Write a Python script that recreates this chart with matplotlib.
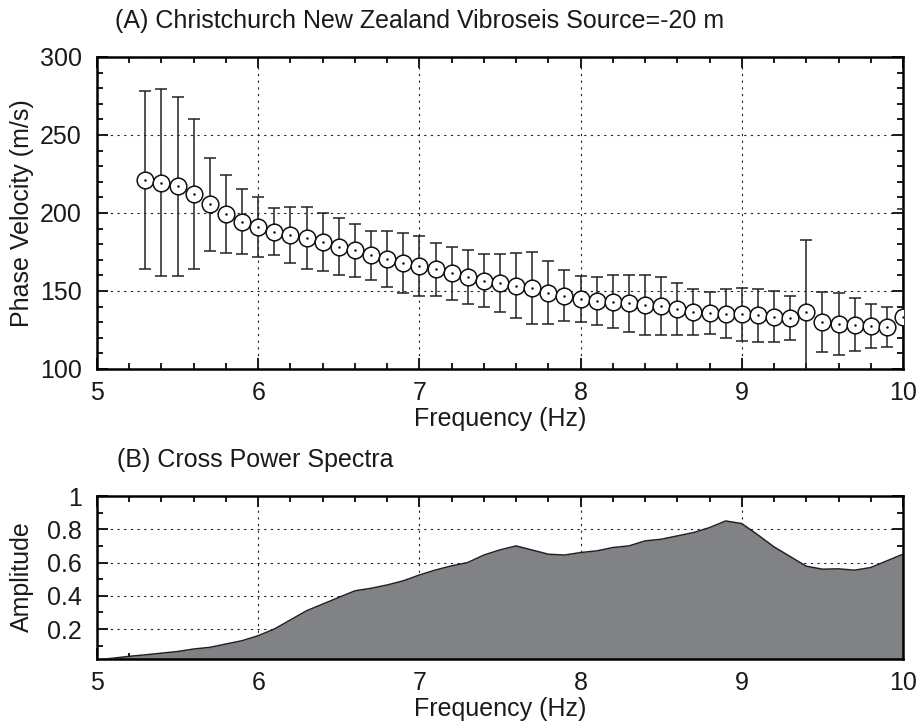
import numpy as np
import matplotlib
matplotlib.use('Agg')
import matplotlib.pyplot as plt
from matplotlib.ticker import MultipleLocator, FormatStrFormatter

plt.rcParams['font.family'] = ['Liberation Sans', 'DejaVu Sans']

# (A) phase velocity with error bars
freq_pv = [5.3, 5.4, 5.5, 5.6, 5.7, 5.8, 5.9, 6.0, 6.1, 6.2, 6.3, 6.4, 6.5, 6.6, 6.7, 6.8,
           6.9, 7.0, 7.1, 7.2, 7.3, 7.4, 7.5, 7.6, 7.7, 7.8, 7.9, 8.0, 8.1, 8.2, 8.3, 8.4,
           8.5, 8.6, 8.7, 8.8, 8.9, 9.0, 9.1, 9.2, 9.3, 9.4, 9.5, 9.6, 9.7, 9.8, 9.9, 10.0]
velocity = [221, 219.5, 217, 212, 205.5, 199.5, 194.5, 191, 188, 186, 184, 181.5, 178.5, 176,
            173, 170.5, 168, 166, 164, 161.5, 159, 156.5, 155, 153.5, 152, 149, 147, 145,
            143.5, 143, 142, 141, 140.5, 138.5, 136.5, 136, 135.5, 135, 134.5, 133.5, 132.5,
            136.5, 130, 129, 128.5, 127.5, 127, 133.5]
vel_err = [57, 60, 57.5, 48, 30, 25, 21, 19, 15, 18, 20, 18.5, 18, 17, 15.7, 17.8, 19, 19,
           17, 17, 17.5, 17, 18.5, 21, 23, 20, 16.5, 14.7, 15.3, 17, 18, 19, 18.5, 16.5, 15,
           13.3, 15.6, 17, 16.9, 16.3, 14.2, 46, 19.2, 19.8, 16.9, 13.9, 12.8, 69]

# (B) cross power spectra
freq_sp = [5.0, 5.1, 5.2, 5.3, 5.4, 5.5, 5.6, 5.7, 5.8, 5.9, 6.0, 6.1, 6.2, 6.3, 6.4, 6.5,
           6.6, 6.7, 6.8, 6.9, 7.0, 7.1, 7.2, 7.3, 7.4, 7.5, 7.6, 7.7, 7.8, 7.9, 8.0, 8.1,
           8.2, 8.3, 8.4, 8.5, 8.6, 8.7, 8.8, 8.9, 9.0, 9.1, 9.2, 9.3, 9.4, 9.5, 9.6, 9.7,
           9.8, 9.9, 10.0]
amplitude = [0.016, 0.025, 0.036, 0.045, 0.055, 0.065, 0.08, 0.09, 0.11, 0.13, 0.16, 0.2,
             0.255, 0.31, 0.35, 0.39, 0.43, 0.445, 0.465, 0.49, 0.525, 0.555, 0.58, 0.6,
             0.645, 0.676, 0.7, 0.675, 0.65, 0.645, 0.66, 0.67, 0.69, 0.7, 0.73, 0.74, 0.76,
             0.78, 0.81, 0.85, 0.834, 0.766, 0.694, 0.636, 0.578, 0.56, 0.562, 0.554, 0.57,
             0.61, 0.65]

FS = 18
W, H = 922, 728
fig = plt.figure(figsize=(W / 100, H / 100), dpi=100)
ax1 = fig.add_axes([97 / W, 1 - 369 / H, 806 / W, 312 / H])
ax2 = fig.add_axes([97 / W, 1 - 659 / H, 806 / W, 163 / H])


def style(ax):
    for s in ax.spines.values():
        s.set_linewidth(1.8)
    ax.xaxis.set_major_locator(MultipleLocator(1))
    ax.xaxis.set_minor_locator(MultipleLocator(0.2))
    ax.tick_params(which='both', direction='in', top=True, right=True, labelsize=FS,
                   width=1.4, colors='#1a1a1a')
    ax.tick_params(axis='x', pad=9)
    ax.tick_params(axis='y', pad=11)
    ax.tick_params(which='major', length=8)
    ax.tick_params(which='minor', length=4.5)
    ax.grid(True, which='major', linestyle=(0, (2, 4)), color='#222222', linewidth=0.8)
    ax.set_xlim(5, 10)
    ax.set_xlabel('Frequency (Hz)', fontsize=FS, labelpad=1, color='#1a1a1a')


# top panel
style(ax1)
ax1.set_ylim(100, 300)
ax1.yaxis.set_major_locator(MultipleLocator(50))
ax1.yaxis.set_minor_locator(MultipleLocator(10))
ax1.errorbar(freq_pv, velocity, yerr=vel_err, fmt='o', markersize=12,
             markerfacecolor='white', markeredgecolor='#111111', markeredgewidth=1.1,
             ecolor='#222222', elinewidth=1.1, capsize=4.5, capthick=1.1, zorder=3)
ax1.plot(freq_pv, velocity, '.', color='k', markersize=1.5, zorder=4)
fig.text(22 / W, 1 - 213 / H, 'Phase Velocity (m/s)', fontsize=FS, rotation=90,
         ha='center', va='center', color='#1a1a1a')
fig.text(115 / W, 1 - 21 / H, '(A) Christchurch New Zealand Vibroseis Source=-20 m',
         fontsize=FS, ha='left', va='center', color='#1a1a1a')

# bottom panel
style(ax2)
ax2.set_ylim(0.02, 1)
ax2.yaxis.set_minor_locator(MultipleLocator(0.1))
ax2.set_yticks([0.2, 0.4, 0.6, 0.8, 1.0])
ax2.yaxis.set_major_formatter(FormatStrFormatter('%g'))
ax2.fill_between(freq_sp, amplitude, 0, color='#818285', zorder=2, linewidth=0)
ax2.plot(freq_sp, amplitude, color='#222222', linewidth=1.1, zorder=3)
fig.text(22 / W, 1 - 577 / H, 'Amplitude', fontsize=FS, rotation=90,
         ha='center', va='center', color='#1a1a1a')
fig.text(117 / W, 1 - 460 / H, '(B) Cross Power Spectra', fontsize=FS,
         ha='left', va='center', color='#1a1a1a')

fig.savefig('out.png', dpi=100)
